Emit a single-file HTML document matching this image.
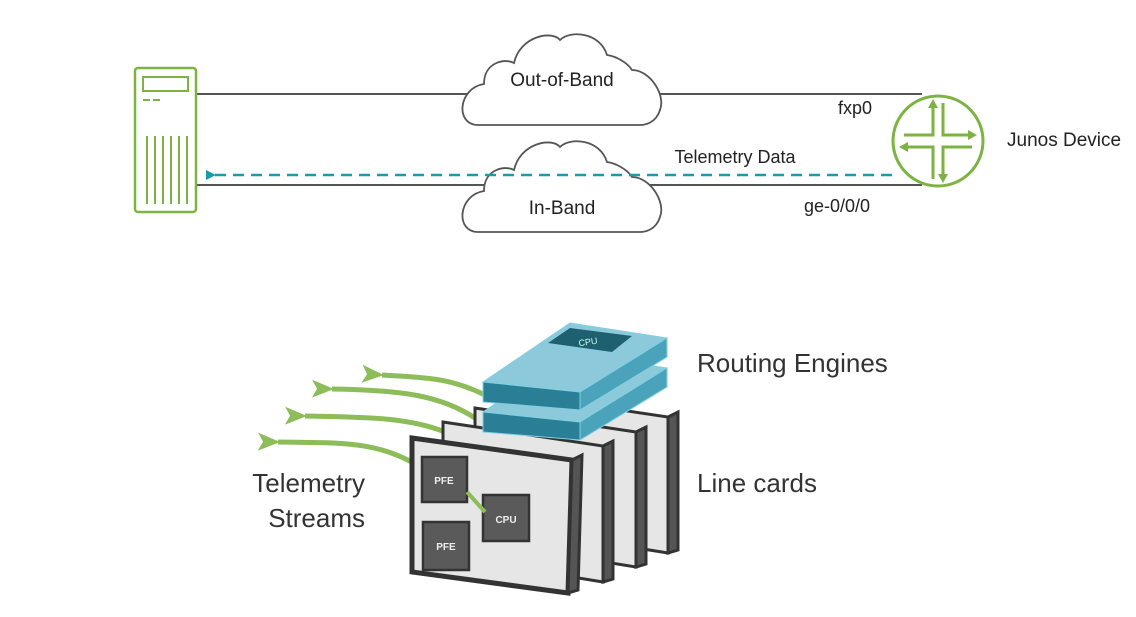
<!DOCTYPE html>
<html><head><meta charset="utf-8"><style>
html,body{margin:0;padding:0;background:#fff;}
svg{display:block;font-family:"Liberation Sans",sans-serif;}
</style></head><body>
<svg width="1136" height="617" viewBox="0 0 1136 617" xmlns="http://www.w3.org/2000/svg">
<defs>
<marker id="ah" markerWidth="10" markerHeight="10" refX="2" refY="5" orient="auto" markerUnits="userSpaceOnUse">
<path d="M10,0 L0,5 L10,10 Z" fill="#1a9bab"/></marker>
<marker id="ga" markerWidth="22" markerHeight="20" refX="2" refY="10" orient="auto" markerUnits="userSpaceOnUse">
<path d="M22,1 L0,10 L22,19 L17,10 Z" fill="#8cbd58"/></marker>
</defs>
<line x1="196" y1="94" x2="470" y2="94" stroke="#555" stroke-width="2"/>
<line x1="655" y1="94" x2="922" y2="94" stroke="#555" stroke-width="2"/>
<line x1="196" y1="185" x2="922" y2="185" stroke="#555" stroke-width="2"/>
<g fill="#fff" stroke="#555" stroke-width="1.8">
<path d="M478,125 C455,125 458,88 484,84 C484,62 505,58 514,63 C520,36 552,30 560,40 C570,30 600,32 607,55 C615,56 627,62 632,70 C650,70 666,95 660,110 C656,123 645,125 640,125 Z"/>
<path d="M478,232 C455,232 458,195 484,191 C484,169 505,165 514,170 C520,143 552,137 560,147 C570,137 600,139 607,162 C615,163 627,169 632,177 C650,177 666,202 660,217 C656,230 645,232 640,232 Z"/>
</g>
<text x="562" y="86" font-size="19" text-anchor="middle" fill="#222">Out-of-Band</text>
<text x="562" y="214" font-size="19" text-anchor="middle" fill="#222">In-Band</text>
<line x1="892" y1="175" x2="214" y2="175" stroke="#1a9bab" stroke-width="2.5" stroke-dasharray="11,7" marker-end="url(#ah)"/>
<text x="735" y="163" font-size="18" text-anchor="middle" fill="#222">Telemetry Data</text>
<text x="838" y="114" font-size="18" fill="#222">fxp0</text>
<text x="804" y="212" font-size="18" fill="#222">ge-0/0/0</text>
<text x="1007" y="146" font-size="19" fill="#222">Junos Device</text>
<g stroke="#7cb342" stroke-width="3" fill="none">
<circle cx="938" cy="141" r="45"/>
<path d="M933,103 V135 H904 M943,103 V135 H972 M933,179 V147 H904 M943,179 V147 H972"/>
</g>
<g fill="#7cb342">
<path d="M933,99 l-5,9 h10z"/><path d="M943,183 l-5,-9 h10z"/>
<path d="M977,135 l-9,-5 v10z"/><path d="M899,147 l9,-5 v10z"/>
</g>
<rect x="135" y="68" width="61" height="144" rx="3" fill="#fff" stroke="#7cb342" stroke-width="2.5"/>
<rect x="143" y="77" width="45" height="14" fill="none" stroke="#7cb342" stroke-width="2"/>
<path d="M143,100 h7 M153,100 h7" stroke="#7cb342" stroke-width="2"/>
<g stroke="#7cb342" stroke-width="2"><path d="M147,136 V204 M155,136 V204 M163,136 V204 M171,136 V204 M179,136 V204 M187,136 V204"/></g>
<g stroke="#8cbd58" stroke-width="5" fill="none">
<path d="M485,395 C450,378 430,378 382,375" marker-end="url(#ga)"/>
<path d="M475,418 C440,395 400,390 332,389" marker-end="url(#ga)"/>
<path d="M445,432 C410,418 370,417 305,416" marker-end="url(#ga)"/>
<path d="M425,470 C380,440 340,443 278,442" marker-end="url(#ga)"/>
</g>
<g stroke="#333" stroke-width="3">
<polygon points="507,393 668,417 668,553 507,527" fill="#e6e6e6"/>
<polygon points="668,417 678,412 678,550 668,553" fill="#555"/>
<polygon points="475,408 636,432 636,567 475,541" fill="#e6e6e6"/>
<polygon points="636,432 646,427 646,564 636,567" fill="#555"/>
<polygon points="443,422 603,446 603,582 443,556" fill="#e6e6e6"/>
<polygon points="603,446 613,441 613,579 603,582" fill="#555"/>
<polygon points="412,438 572,460 568,593 412,572" fill="#e6e6e6" stroke-width="5"/>
<polygon points="572,460 582,455 578,590 568,593" fill="#555"/>
</g>
<g fill="#5a5a5a" stroke="#333" stroke-width="2.5">
<rect x="422" y="457" width="45" height="45"/>
<rect x="423" y="522" width="46" height="48"/>
<rect x="483" y="495" width="46" height="46"/>
</g>
<path d="M467,492 L485,512" stroke="#8cbd58" stroke-width="4"/>
<g fill="#eee" font-size="10" font-weight="bold" text-anchor="middle">
<text x="444" y="484">PFE</text><text x="446" y="550">PFE</text><text x="506" y="523">CPU</text>
</g>
<g stroke="#7fd0e0" stroke-width="1">
<polygon points="483,412 570,353 667,368 580,422" fill="#8cc9db"/>
<polygon points="483,412 580,422 580,440 483,432" fill="#2a7f96"/>
<polygon points="580,422 667,368 667,387 580,440" fill="#4aa3bb"/>
<polygon points="483,382 570,323 667,338 580,392" fill="#8cc9db"/>
<polygon points="483,382 580,392 580,410 483,402" fill="#2a7f96"/>
<polygon points="580,392 667,338 667,357 580,410" fill="#4aa3bb"/>
</g>
<polygon points="548,343 570,328 632,336 612,352" fill="#1e5f70"/>
<text x="588" y="345" font-size="9" fill="#cfe" text-anchor="middle" transform="rotate(-8 588 342)">CPU</text>
<g font-size="26" fill="#333">
<text x="697" y="372">Routing Engines</text>
<text x="697" y="492">Line cards</text>
<text x="365" y="492" text-anchor="end">Telemetry</text>
<text x="365" y="527" text-anchor="end">Streams</text>
</g>
</svg>
</body></html>
